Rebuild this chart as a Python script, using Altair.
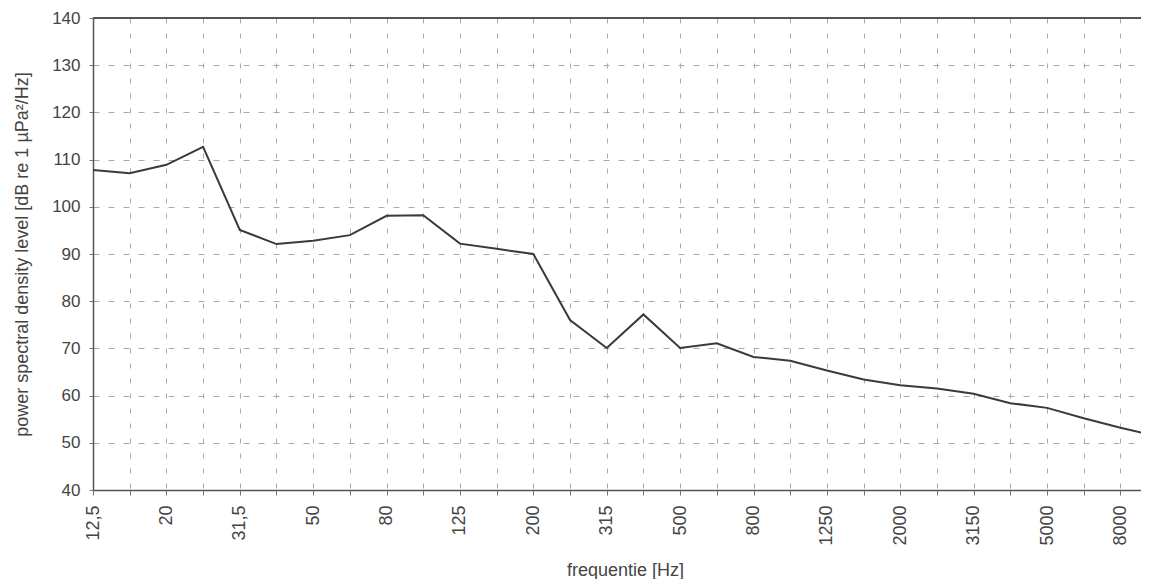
import altair as alt
import pandas as pd

bands = ["12,5", "16", "20", "25", "31,5", "40", "50", "63", "80", "100",
         "125", "160", "200", "250", "315", "400", "500", "630", "800", "1000",
         "1250", "1600", "2000", "2500", "3150", "4000", "5000", "6300", "8000", "10000"]
levels = [107.8, 107.1, 108.9, 112.7, 95.1, 92.1, 92.8, 94.0, 98.1, 98.2,
          92.2, 91.1, 90.0, 76.0, 70.1, 77.2, 70.1, 71.1, 68.2, 67.4,
          65.3, 63.4, 62.2, 61.5, 60.4, 58.4, 57.4, 55.2, 53.2, 51.4]
y_ticks = [40, 50, 60, 70, 80, 90, 100, 110, 120, 130, 140]

df = pd.DataFrame({"idx": list(range(len(bands))), "band": bands, "level": levels})

shown = [b if i % 2 == 0 else "" for i, b in enumerate(bands)]
label_expr = "[" + ",".join("'" + s + "'" for s in shown) + "][datum.value]"

W, H = 1048, 472
FONT = "Liberation Sans"

x = alt.X("idx:Q",
          scale=alt.Scale(domain=[0, 28.56], nice=False, zero=False),
          axis=alt.Axis(values=list(range(len(bands))), labelExpr=label_expr,
                        labelAngle=-90, labelAlign="right", labelBaseline="middle",
                        labelFontSize=18, labelColor="#444", labelFont=FONT,
                        labelPadding=10, tickSize=5, tickColor="#777",
                        domainColor="#555", domainWidth=1.5,
                        grid=True, gridColor="#aaa", gridDash=[5, 10], gridWidth=1,
                        title="frequentie [Hz]", titleFontSize=18, titleFont=FONT,
                        titleFontWeight="normal", titleColor="#444",
                        titleX=532, titleY=80, titleAnchor="middle",
                        titleBaseline="middle", labelOverlap=False, labelFlush=False))

y = alt.Y("level:Q",
          scale=alt.Scale(domain=[40, 140], nice=False, zero=False),
          axis=alt.Axis(values=y_ticks, labelFontSize=17, labelColor="#444",
                        labelFont=FONT, labelPadding=9, tickSize=4, tickColor="#777",
                        domainColor="#555", domainWidth=1.5,
                        grid=True, gridColor="#aaa", gridDash=[6, 9], gridWidth=1,
                        title="power spectral density level [dB re 1 µPa²/Hz]",
                        titleFontSize=18, titleFont=FONT, titleFontWeight="normal",
                        titleColor="#444", titleX=-71, titleY=236, titleAngle=-90,
                        titleAlign="center", titleBaseline="middle"))

line = alt.Chart(df).mark_line(color="#3a3a3a", strokeWidth=2, clip=True).encode(x=x, y=y)

top = alt.Chart(df).mark_rule(color="#555", strokeWidth=1.5).encode(
    x=alt.value(0), x2=alt.value(W), y=alt.value(0))

chart = alt.layer(line, top).properties(
    width=W, height=H,
    autosize=alt.AutoSizeParams(type="none"),
    padding={"left": 85, "top": 10, "right": 0, "bottom": 89},
).configure_view(stroke=None).configure(background="white")

chart.save("out.html", embed_options={"renderer": "svg", "actions": False})
